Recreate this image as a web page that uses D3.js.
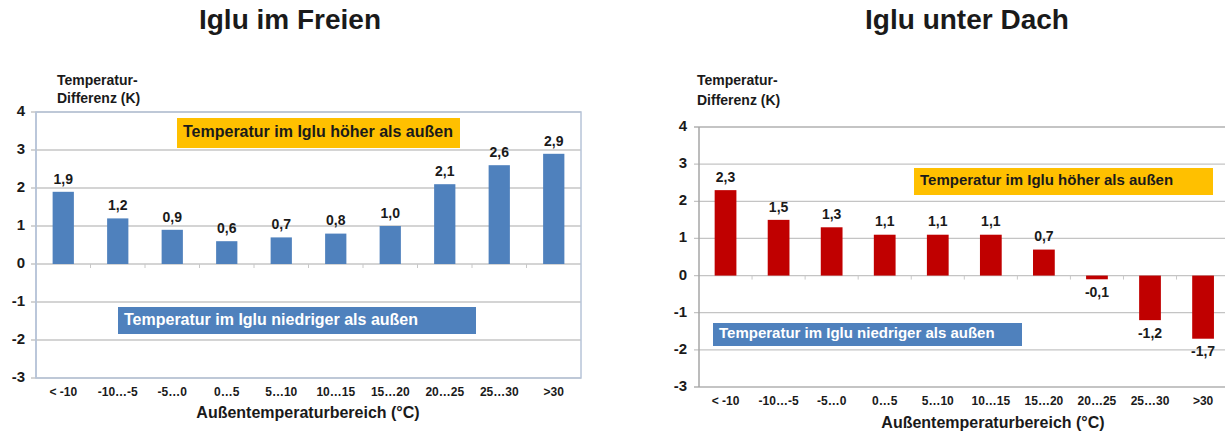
<!DOCTYPE html>
<html>
<head>
<meta charset="utf-8">
<script src="https://cdn.jsdelivr.net/npm/d3@7"></script>
<style>
  html, body { margin: 0; padding: 0; background: #fff; }
  svg { display: block; }
  text { font-family: "Liberation Sans", Arial, sans-serif; font-weight: bold; fill: #1a1a1a; }
</style>
</head>
<body>
<svg id="chart" width="1225" height="435"></svg>
<script>
// Temperature ranges outside the igloo (°C)
const categories = ["< -10", "-10…-5", "-5…0", "0…5", "5…10", "10…15", "15…20", "20…25", "25…30", ">30"];
// Temperature difference inside minus outside (K)
const freienValues = [1.9, 1.2, 0.9, 0.6, 0.7, 0.8, 1.0, 2.1, 2.6, 2.9];
const dachValues = [2.3, 1.5, 1.3, 1.1, 1.1, 1.1, 0.7, -0.1, -1.2, -1.7];
const yTicks = [4, 3, 2, 1, 0, -1, -2, -3];
const titles = ["Iglu im Freien", "Iglu unter Dach"];
const yTitleLines = ["Temperatur-", "Differenz (K)"];
const xTitle = "Außentemperaturbereich (°C)";
const noteHigher = "Temperatur im Iglu höher als außen";
const noteLower = "Temperatur im Iglu niedriger als außen";

const svg = d3.select("#chart");
// German decimal comma, plain hyphen for negatives
const fmt = v => d3.format(".1f")(v).replace("−", "-").replace(".", ",");

function drawPanel(cfg) {
  const g = svg.append("g");
  const x = d3.scaleBand().domain(categories).range([cfg.x0, cfg.x1]).paddingInner(cfg.pad).paddingOuter(cfg.pad / 2);
  const y = d3.scaleLinear().domain([-3, 4]).range([cfg.yBottom, cfg.yTop]);

  // title
  g.append("text").attr("x", cfg.titleX).attr("y", 22).attr("text-anchor", "middle")
    .attr("dominant-baseline", "middle").style("font-size", "28px").text(cfg.title);

  // gridlines
  g.append("g").selectAll("line").data(yTicks).join("line")
    .attr("x1", cfg.x0 - 5).attr("x2", cfg.x1)
    .attr("y1", d => y(d)).attr("y2", d => y(d))
    .attr("stroke", cfg.gridColor).attr("stroke-width", d => (d === 4 || d === -3) ? cfg.edgeWidth : 1.3);

  // left axis line and optional frame
  g.append("line").attr("x1", cfg.x0).attr("x2", cfg.x0).attr("y1", y(4)).attr("y2", y(-3))
    .attr("stroke", cfg.axisColor).attr("stroke-width", 1.5);
  if (cfg.frameColor) {
    g.append("rect").attr("x", cfg.x0).attr("y", y(4)).attr("width", cfg.x1 - cfg.x0).attr("height", y(-3) - y(4))
      .attr("fill", "none").attr("stroke", cfg.frameColor).attr("stroke-width", 1.5);
  }

  // y tick labels
  g.append("g").selectAll("text").data(yTicks).join("text")
    .attr("x", cfg.yLabelX).attr("y", d => y(d)).attr("text-anchor", "end")
    .attr("dominant-baseline", "middle").style("font-size", "15px").text(d => d);

  // category tick marks on the zero line
  const bounds = categories.slice(1).map(c => x(c) - x.step() * x.paddingInner() / 2);
  g.append("g").selectAll("line").data(bounds).join("line")
    .attr("x1", d => d).attr("x2", d => d).attr("y1", y(0)).attr("y2", y(0) + 4)
    .attr("stroke", "#c8c8c8").attr("stroke-width", 1);

  // bars
  g.append("g").selectAll("rect").data(cfg.values).join("rect")
    .attr("x", (d, i) => x(categories[i]))
    .attr("width", x.bandwidth())
    .attr("y", d => y(Math.max(0, d)))
    .attr("height", d => Math.abs(y(d) - y(0)))
    .attr("fill", cfg.barColor);

  // value labels
  g.append("g").selectAll("text").data(cfg.values).join("text")
    .attr("x", (d, i) => x(categories[i]) + x.bandwidth() / 2)
    .attr("y", d => d >= 0 ? y(d) - 12 : y(d) + 14)
    .attr("text-anchor", "middle").attr("dominant-baseline", "middle")
    .style("font-size", "14px").text(fmt);

  // category labels
  g.append("g").selectAll("text").data(categories).join("text")
    .attr("x", d => x(d) + x.bandwidth() / 2).attr("y", cfg.catY)
    .attr("text-anchor", "middle").attr("dominant-baseline", "middle")
    .style("font-size", "12px").text(d => d);

  // axis titles
  g.append("text").attr("x", cfg.xTitleX).attr("y", cfg.xTitleY).attr("text-anchor", "middle")
    .attr("dominant-baseline", "middle").style("font-size", "16px").text(xTitle);
  g.append("g").selectAll("text").data(yTitleLines).join("text")
    .attr("x", cfg.yTitleX).attr("y", (d, i) => cfg.yTitleY + i * cfg.yTitleGap)
    .attr("dominant-baseline", "middle").style("font-size", "14px").text(d => d);

  // annotation boxes
  const hi = cfg.hiBox, lo = cfg.loBox;
  g.append("rect").attr("x", hi[0]).attr("y", hi[1]).attr("width", hi[2] - hi[0]).attr("height", hi[3] - hi[1])
    .attr("fill", "#ffc000");
  g.append("text").attr("x", hi[0] + cfg.notePad).attr("y", (hi[1] + hi[3]) / 2)
    .attr("dominant-baseline", "middle").style("font-size", cfg.noteSize + "px").style("fill", "#1a1a1a").text(noteHigher);
  g.append("rect").attr("x", lo[0]).attr("y", lo[1]).attr("width", lo[2] - lo[0]).attr("height", lo[3] - lo[1])
    .attr("fill", "#4f81bd");
  g.append("text").attr("x", lo[0] + cfg.notePad).attr("y", (lo[1] + lo[3]) / 2)
    .attr("dominant-baseline", "middle").style("font-size", cfg.noteSize + "px").style("fill", "#ffffff").text(noteLower);
}

drawPanel({
  title: titles[0], titleX: 290, values: freienValues, barColor: "#4f81bd",
  x0: 36, x1: 581, pad: 0.61, yTop: 112, yBottom: 378,
  gridColor: "#c6c6c6", axisColor: "#b7c4d8", frameColor: "#b7c4d8", edgeWidth: 1.5,
  yLabelX: 25, catY: 393, xTitleX: 308, xTitleY: 414,
  yTitleX: 57, yTitleY: 81, yTitleGap: 18,
  hiBox: [177, 118, 460, 148], loBox: [118, 307, 476, 334], notePad: 6, noteSize: 16
});

drawPanel({
  title: titles[1], titleX: 967, values: dachValues, barColor: "#c00000",
  x0: 699, x1: 1229.6, pad: 0.59, yTop: 127, yBottom: 387,
  gridColor: "#c4c4c4", axisColor: "#a6a6a6", frameColor: null, edgeWidth: 2,
  yLabelX: 687, catY: 402, xTitleX: 993, xTitleY: 424,
  yTitleX: 697, yTitleY: 81, yTitleGap: 20,
  hiBox: [914, 168, 1213, 195], loBox: [713, 323, 1022, 346], notePad: 6, noteSize: 15
});
</script>
</body>
</html>
